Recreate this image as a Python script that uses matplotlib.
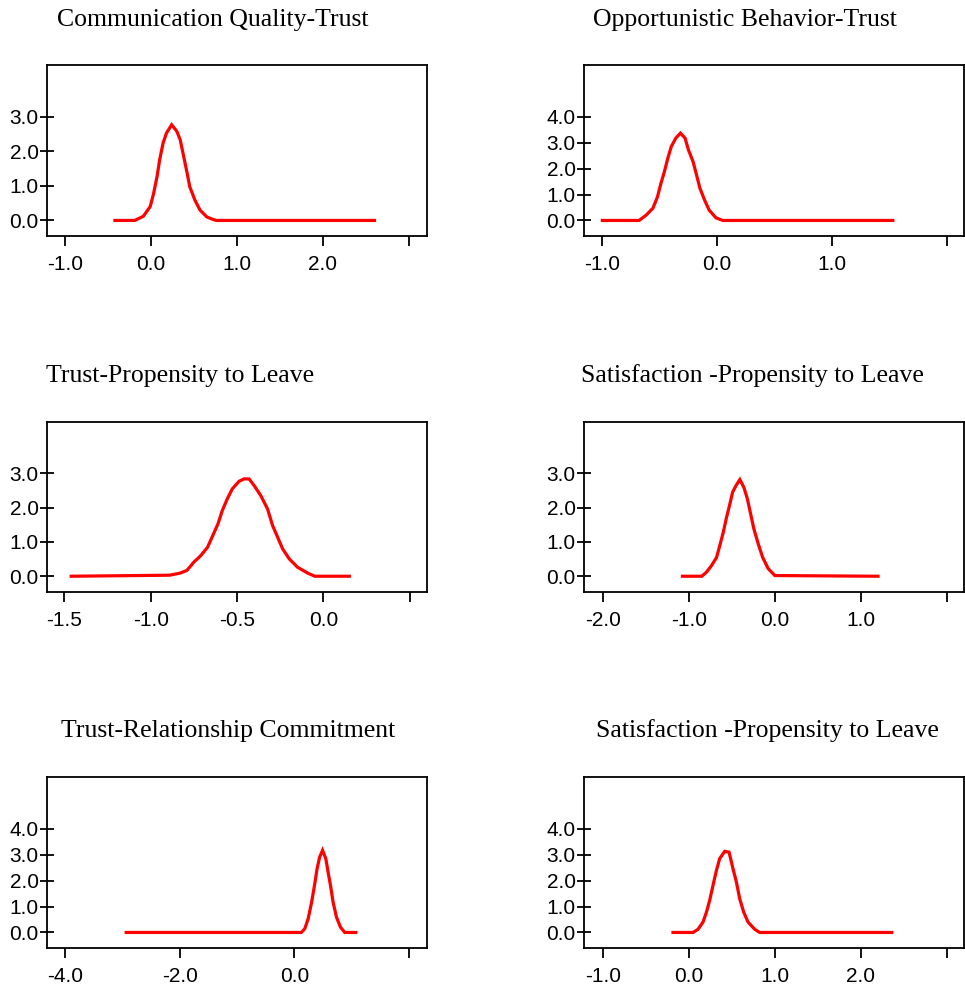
import numpy as np
import matplotlib
matplotlib.use("Agg")
import matplotlib.pyplot as plt

# panel titles
titles = ["Communication Quality-Trust", "Opportunistic Behavior-Trust",
          "Trust-Propensity to Leave", "Satisfaction -Propensity to Leave",
          "Trust-Relationship Commitment", "Satisfaction -Propensity to Leave"]

# density curves
x1 = [-0.42, -0.19, -0.09, -0.01, 0.03, 0.07, 0.10, 0.14, 0.18, 0.24, 0.30, 0.34, 0.38, 0.42, 0.45, 0.51, 0.57, 0.65, 0.72, 0.76, 2.60]
y1 = [0.0, 0.0, 0.12, 0.40, 0.78, 1.27, 1.75, 2.24, 2.53, 2.77, 2.58, 2.33, 1.85, 1.37, 0.98, 0.59, 0.30, 0.10, 0.03, 0.0, 0.0]

x2 = [-1.0, -0.68, -0.62, -0.56, -0.52, -0.49, -0.46, -0.43, -0.40, -0.36, -0.32, -0.28, -0.25, -0.21, -0.18, -0.15, -0.11, -0.07, -0.01, 0.05, 1.53]
y2 = [0.0, 0.0, 0.20, 0.47, 0.91, 1.43, 1.88, 2.40, 2.85, 3.18, 3.37, 3.18, 2.72, 2.27, 1.76, 1.24, 0.79, 0.40, 0.10, 0.0, 0.0]

x3 = [-1.46, -0.89, -0.83, -0.79, -0.75, -0.71, -0.67, -0.64, -0.61, -0.585, -0.556, -0.527, -0.488, -0.459, -0.43, -0.40, -0.362, -0.323, -0.294, -0.265, -0.236, -0.198, -0.149, -0.09, -0.05, 0.15]
y3 = [0.0, 0.03, 0.09, 0.17, 0.41, 0.60, 0.85, 1.19, 1.53, 1.92, 2.26, 2.55, 2.77, 2.84, 2.84, 2.64, 2.35, 1.96, 1.48, 1.14, 0.80, 0.51, 0.26, 0.09, 0.0, 0.0]

x4 = [-1.075, -0.85, -0.795, -0.737, -0.678, -0.64, -0.60, -0.562, -0.523, -0.492, -0.453, -0.407, -0.36, -0.32, -0.282, -0.244, -0.193, -0.142, -0.077, 0.0, 1.2]
y4 = [0.0, 0.0, 0.12, 0.31, 0.55, 0.90, 1.28, 1.72, 2.11, 2.45, 2.64, 2.82, 2.59, 2.26, 1.82, 1.38, 0.94, 0.55, 0.22, 0.02, 0.0]

x5 = [-2.93, 0.12, 0.18, 0.24, 0.30, 0.355, 0.395, 0.44, 0.49, 0.547, 0.587, 0.629, 0.674, 0.733, 0.803, 0.878, 1.07]
y5 = [0.0, 0.0, 0.14, 0.53, 1.17, 1.88, 2.46, 2.91, 3.17, 2.85, 2.33, 1.81, 1.17, 0.59, 0.20, 0.0, 0.0]

x6 = [-0.185, 0.048, 0.106, 0.164, 0.204, 0.242, 0.28, 0.32, 0.358, 0.417, 0.467, 0.513, 0.553, 0.591, 0.638, 0.688, 0.766, 0.824, 2.36]
y6 = [0.0, 0.0, 0.12, 0.40, 0.78, 1.24, 1.81, 2.39, 2.85, 3.13, 3.10, 2.46, 1.94, 1.30, 0.78, 0.40, 0.12, 0.0, 0.0]

xs = [x1, x2, x3, x4, x5, x6]
ys = [y1, y2, y3, y4, y5, y6]

xticks = [[-1, 0, 1, 2, 3], [-1, 0, 1, 2], [-1.5, -1.0, -0.5, 0.0, 0.5],
          [-2, -1, 0, 1, 2], [-4, -2, 0, 2], [-1, 0, 1, 2, 3]]
yticks = [[0, 1, 2, 3], [0, 1, 2, 3, 4], [0, 1, 2, 3],
          [0, 1, 2, 3], [0, 1, 2, 3, 4], [0, 1, 2, 3, 4]]
xlims = [(-1.21, 3.21), (-1.16, 2.15), (-1.60, 0.60),
         (-2.22, 2.20), (-4.31, 2.31), (-1.22, 3.20)]
ylims = [(-0.45, 4.5), (-0.6, 6.0), (-0.46, 4.5),
         (-0.46, 4.5), (-0.6, 6.0), (-0.6, 6.0)]

W, H = 965, 988
fig = plt.figure(figsize=(W / 100, H / 100), dpi=100)

# axes boxes in pixels: left, top, right, bottom
boxes = [(47, 65, 427, 236), (584, 65, 964, 236),
         (47, 422, 427, 592), (584, 422, 964, 592),
         (47, 777, 427, 948), (584, 777, 964, 948)]
title_pos = [(213, 20), (745, 20), (180, 376), (752, 376), (228, 731), (767, 731)]

for i in range(6):
    l, t, r, b = boxes[i]
    ax = fig.add_axes([l / W, 1 - b / H, (r - l) / W, (b - t) / H])
    ax.plot(xs[i], ys[i], color="#ff0000", lw=2.3, solid_joinstyle="miter")
    ax.set_xlim(*xlims[i])
    ax.set_ylim(*ylims[i])
    ax.set_xticks(xticks[i])
    ax.set_xticklabels(["%.1f" % v for v in xticks[i][:-1]] + [""])
    ax.set_yticks(yticks[i])
    ax.set_yticklabels(["%.1f" % v for v in yticks[i]])
    for s in ax.spines.values():
        s.set_linewidth(1.3)
    ax.tick_params(axis="x", direction="out", length=7, width=1.3, pad=7,
                   labelsize=15)
    ax.tick_params(axis="y", direction="inout", length=10, width=1.3, pad=1,
                   labelsize=15)
    for lab in ax.get_xticklabels() + ax.get_yticklabels():
        lab.set_fontfamily("Liberation Sans")
    fig.text(title_pos[i][0] / W, 1 - title_pos[i][1] / H, titles[i],
             ha="center", va="center", fontsize=18.5, family="Liberation Serif")

fig.savefig("out.png", dpi=100)
